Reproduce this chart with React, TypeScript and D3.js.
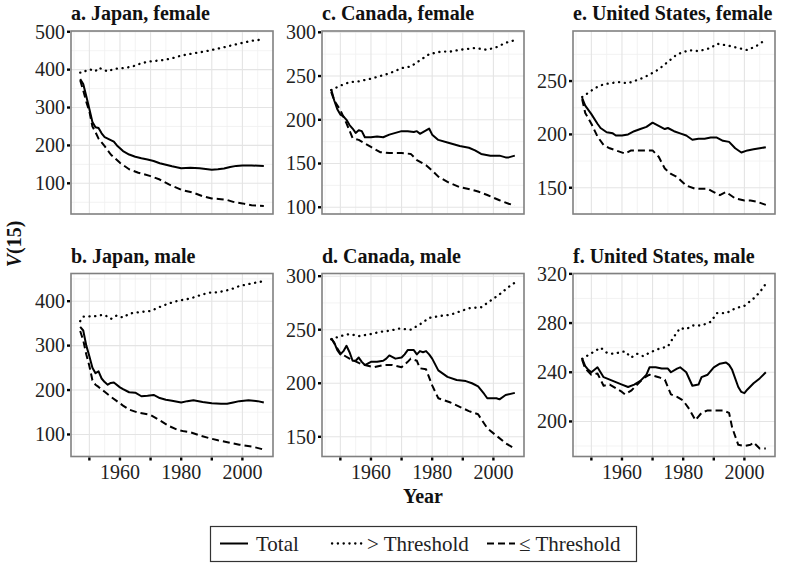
import React from "react";
import * as d3 from "d3";

type Pt = [number, number];

// ---- Data: [year, V(15)] ----
const jpFTotal: Pt[] = [[1947,375],[1948,362],[1949,330],[1950,296],[1951,262],[1952,248],[1953,246],[1954,232],[1955,222],[1956,218],[1958,210],[1959,200],[1961,185],[1963,176],[1965,170],[1967,166],[1969,163],[1971,159],[1973,153],[1975,149],[1977,145],[1980,140],[1983,141],[1986,140],[1988,138],[1990,136],[1992,137],[1994,139],[1996,143],[1998,146],[2000,147],[2003,147],[2007,146]];
const jpFAbove: Pt[] = [[1947,392],[1948,392],[1949,398],[1950,401],[1952,396],[1953,405],[1955,399],[1956,395],[1958,402],[1961,404],[1964,408],[1967,417],[1970,422],[1974,425],[1977,430],[1980,437],[1984,443],[1987,447],[1990,452],[1995,461],[1999,469],[2003,476],[2007,480]];
const jpFBelow: Pt[] = [[1947,372],[1948,345],[1949,315],[1950,290],[1951,250],[1952,235],[1953,218],[1955,198],[1957,176],[1960,154],[1963,137],[1966,128],[1970,119],[1973,110],[1976,97],[1980,83],[1984,75],[1987,66],[1990,60],[1993,58],[1995,56],[1997,51],[2000,47],[2003,42],[2007,40]];

const jpMTotal: Pt[] = [[1947,342],[1948,334],[1949,300],[1950,276],[1951,250],[1952,238],[1953,242],[1954,226],[1955,218],[1956,212],[1957,216],[1958,217],[1960,206],[1961,202],[1963,195],[1965,194],[1967,186],[1969,187],[1971,189],[1973,182],[1975,178],[1977,176],[1980,172],[1982,175],[1984,177],[1987,173],[1990,170],[1993,169],[1995,169],[1997,172],[1999,175],[2002,177],[2005,175],[2007,172]];
const jpMAbove: Pt[] = [[1947,355],[1948,365],[1950,366],[1951,365],[1953,368],[1955,369],[1957,360],[1959,368],[1961,363],[1963,372],[1966,375],[1970,378],[1973,387],[1976,395],[1979,401],[1983,406],[1986,413],[1989,419],[1992,420],[1996,426],[1999,434],[2003,440],[2007,445]];
const jpMBelow: Pt[] = [[1947,333],[1948,312],[1949,280],[1950,254],[1951,222],[1952,212],[1953,207],[1955,196],[1957,185],[1959,175],[1961,165],[1963,156],[1966,149],[1970,144],[1973,132],[1976,119],[1979,110],[1981,107],[1983,105],[1986,98],[1989,92],[1992,87],[1996,81],[1999,77],[2003,73],[2007,66]];

const caFTotal: Pt[] = [[1947,235],[1948,222],[1949,212],[1950,206],[1951,204],[1952,200],[1953,194],[1954,190],[1955,185],[1956,188],[1957,187],[1958,180],[1960,180],[1962,181],[1964,180],[1966,183],[1968,185],[1970,187],[1972,187],[1974,186],[1975,187],[1976,184],[1977,186],[1978,188],[1979,190],[1980,183],[1982,177],[1985,174],[1987,172],[1989,170],[1992,168],[1994,165],[1996,161],[1999,159],[2002,159],[2004,157],[2005,157],[2007,159]];
const caFAbove: Pt[] = [[1947,234],[1950,239],[1953,243],[1956,244],[1960,247],[1963,250],[1966,253],[1970,259],[1973,261],[1976,268],[1979,275],[1983,278],[1986,278],[1989,280],[1994,282],[1998,280],[2001,283],[2004,288],[2007,291]];
const caFBelow: Pt[] = [[1947,232],[1948,222],[1950,211],[1952,196],[1954,179],[1956,177],[1958,173],[1960,169],[1963,163],[1966,162],[1970,162],[1973,161],[1975,154],[1978,148],[1980,142],[1982,135],[1985,129],[1989,123],[1993,120],[1995,118],[1998,114],[2002,108],[2005,104],[2007,102]];

const caMTotal: Pt[] = [[1947,242],[1948,238],[1949,231],[1950,227],[1951,230],[1952,235],[1953,229],[1954,221],[1955,221],[1956,224],[1957,220],[1958,217],[1960,220],[1962,220],[1964,221],[1965,223],[1966,226],[1968,223],[1970,224],[1971,227],[1972,231],[1974,231],[1975,227],[1976,230],[1977,229],[1978,230],[1979,227],[1980,223],[1982,212],[1985,206],[1988,203],[1991,202],[1993,200],[1995,197],[1997,190],[1998,186],[2001,186],[2002,185],[2004,189],[2007,191]];
const caMAbove: Pt[] = [[1947,241],[1950,244],[1953,246],[1956,244],[1960,246],[1963,248],[1966,249],[1969,251],[1973,250],[1976,255],[1979,261],[1983,263],[1986,264],[1989,267],[1992,270],[1996,271],[1999,277],[2002,283],[2005,290],[2007,294]];
const caMBelow: Pt[] = [[1947,242],[1950,228],[1953,223],[1956,219],[1958,217],[1961,215],[1964,217],[1967,217],[1970,215],[1972,220],[1973,223],[1975,221],[1976,214],[1978,213],[1980,198],[1982,186],[1984,184],[1986,182],[1989,178],[1992,174],[1995,171],[1998,158],[2001,151],[2004,144],[2007,139]];

const usFTotal: Pt[] = [[1947,234],[1948,227],[1950,219],[1952,210],[1953,206],[1955,202],[1957,201],[1958,199],[1960,199],[1962,200],[1964,203],[1966,205],[1968,207],[1970,211],[1972,208],[1974,205],[1975,206],[1977,203],[1979,201],[1981,199],[1983,195],[1985,196],[1987,196],[1989,197],[1991,197],[1993,194],[1995,193],[1997,187],[1999,183],[2001,185],[2003,186],[2005,187],[2007,188]];
const usFAbove: Pt[] = [[1947,235],[1949,239],[1951,243],[1953,246],[1956,248],[1959,249],[1962,248],[1966,252],[1969,256],[1972,261],[1975,268],[1978,275],[1982,279],[1985,278],[1989,281],[1991,285],[1995,283],[1998,281],[2001,279],[2004,283],[2007,289]];
const usFBelow: Pt[] = [[1947,233],[1948,220],[1950,210],[1952,198],[1954,190],[1956,187],[1958,185],[1961,182],[1963,185],[1967,185],[1970,185],[1972,179],[1974,168],[1976,163],[1978,160],[1981,152],[1984,149],[1988,149],[1990,146],[1992,143],[1994,146],[1997,140],[2000,138],[2002,138],[2004,137],[2007,134]];

const usMTotal: Pt[] = [[1947,251],[1948,245],[1949,242],[1950,240],[1951,242],[1952,244],[1953,240],[1954,236],[1956,234],[1958,232],[1960,230],[1962,228],[1964,230],[1966,233],[1968,238],[1969,244],[1971,244],[1973,243],[1975,243],[1976,240],[1978,243],[1979,244],[1981,240],[1983,229],[1985,230],[1986,236],[1988,238],[1990,244],[1992,247],[1994,248],[1995,246],[1996,242],[1998,228],[1999,224],[2000,223],[2001,226],[2003,231],[2005,235],[2007,240]];
const usMAbove: Pt[] = [[1947,251],[1949,254],[1951,257],[1953,260],[1955,256],[1957,255],[1959,256],[1961,257],[1963,252],[1965,255],[1967,253],[1969,256],[1972,259],[1975,261],[1977,269],[1979,276],[1981,275],[1983,278],[1986,278],[1989,281],[1991,288],[1994,288],[1997,292],[2000,294],[2003,300],[2005,305],[2007,312]];
const usMBelow: Pt[] = [[1947,250],[1948,243],[1950,238],[1952,239],[1954,229],[1956,230],[1958,227],[1960,224],[1961,222],[1963,225],[1965,230],[1967,235],[1969,238],[1972,236],[1974,234],[1976,222],[1978,220],[1980,217],[1982,210],[1984,201],[1986,207],[1988,209],[1991,209],[1993,209],[1995,207],[1996,195],[1998,181],[2000,180],[2002,181],[2003,183],[2005,178],[2007,178]];

const yearTicks = [1950, 1960, 1970, 1980, 1990, 2000];
const yearLabels = ["", "1960", "", "1980", "", "2000"];
const legendLabels = ["Total", "> Threshold", "≤ Threshold"];

type Panel = {
  title: string;
  col: number;
  row: number;
  yDomain: [number, number];
  yTicks: number[];
  total: Pt[];
  above: Pt[];
  below: Pt[];
};

const panels: Panel[] = [
  { title: "a. Japan, female", col: 0, row: 0, yDomain: [19, 502], yTicks: [100, 200, 300, 400, 500], total: jpFTotal, above: jpFAbove, below: jpFBelow },
  { title: "b. Japan, male", col: 0, row: 1, yDomain: [50.4, 462.3], yTicks: [100, 200, 300, 400], total: jpMTotal, above: jpMAbove, below: jpMBelow },
  { title: "c. Canada, female", col: 1, row: 0, yDomain: [92.3, 301.5], yTicks: [100, 150, 200, 250, 300], total: caFTotal, above: caFAbove, below: caFBelow },
  { title: "d. Canada, male", col: 1, row: 1, yDomain: [131.6, 302.5], yTicks: [150, 200, 250, 300], total: caMTotal, above: caMAbove, below: caMBelow },
  { title: "e. United States, female", col: 2, row: 0, yDomain: [125.4, 296.9], yTicks: [150, 200, 250], total: usFTotal, above: usFAbove, below: usFBelow },
  { title: "f. United States, male", col: 2, row: 1, yDomain: [171.5, 320.3], yTicks: [200, 240, 280, 320], total: usMTotal, above: usMAbove, below: usMBelow },
];

const colX = [71, 322, 573];
const panelW = 202;
const rowY = [31, 273.5];
const panelH = 183;

const FONT = "Liberation Serif";
const styles = {
  total: { dash: "none", width: 2 },
  above: { dash: "0.2 5.6", width: 2.3 },
  below: { dash: "7 4", width: 2 },
};

function PanelView({ p }: { p: Panel }) {
  const x0 = colX[p.col];
  const y0 = rowY[p.row];
  const x = d3.scaleLinear().domain([1944, 2010]).range([x0, x0 + panelW]);
  const y = d3.scaleLinear().domain(p.yDomain).range([y0 + panelH, y0]);
  const step = p.yTicks[1] - p.yTicks[0];
  const ext = [p.yTicks[0] - step, ...p.yTicks, p.yTicks[p.yTicks.length - 1] + step];
  const minorY: number[] = [];
  for (let i = 0; i < ext.length - 1; i++) minorY.push((ext[i] + ext[i + 1]) / 2);
  const inY = (v: number) => v >= p.yDomain[0] - 0.5 && v <= p.yDomain[1] + 0.5;
  const majorX = d3.range(1950, 2011, 10).filter((v) => v <= 2010 - 0.5);
  const minorX = d3.range(1945, 2011, 10);
  const line = d3.line<Pt>().x((d) => x(d[0])).y((d) => y(d[1]));
  const clipId = `clip-${p.col}-${p.row}`;
  return (
    <g>
      <defs>
        <clipPath id={clipId}>
          <rect x={x0} y={y0} width={panelW} height={panelH} />
        </clipPath>
      </defs>
      <rect x={x0} y={y0} width={panelW} height={panelH} fill="#fff" />
      {minorY.filter(inY).map((v) => (
        <line key={"my" + v} x1={x0} x2={x0 + panelW} y1={y(v)} y2={y(v)} stroke="#f0f0f0" strokeWidth={0.8} />
      ))}
      {minorX.map((v) => (
        <line key={"mx" + v} x1={x(v)} x2={x(v)} y1={y0} y2={y0 + panelH} stroke="#f0f0f0" strokeWidth={0.8} />
      ))}
      {p.yTicks.filter(inY).map((v) => (
        <line key={"gy" + v} x1={x0} x2={x0 + panelW} y1={y(v)} y2={y(v)} stroke="#e4e4e4" strokeWidth={1.1} />
      ))}
      {majorX.map((v) => (
        <line key={"gx" + v} x1={x(v)} x2={x(v)} y1={y0} y2={y0 + panelH} stroke="#e4e4e4" strokeWidth={1.1} />
      ))}
      <g clipPath={`url(#${clipId})`} fill="none" stroke="#000" strokeLinejoin="round">
        <path d={line(p.above) || ""} strokeWidth={styles.above.width} strokeDasharray={styles.above.dash} strokeLinecap="round" />
        <path d={line(p.below) || ""} strokeWidth={styles.below.width} strokeDasharray={styles.below.dash} />
        <path d={line(p.total) || ""} strokeWidth={styles.total.width} />
      </g>
      <rect x={x0} y={y0} width={panelW} height={panelH} fill="none" stroke="#808080" strokeWidth={1.6} />
      {p.yTicks.filter(inY).map((v) => (
        <g key={"yt" + v}>
          <line x1={x0 - 4} x2={x0 - 1} y1={y(v)} y2={y(v)} stroke="#000" strokeWidth={2.4} />
          <text x={x0 - 6} y={y(v)} dy="0.34em" textAnchor="end" fontSize={20} fill="#222" fontFamily={FONT}>
            {v}
          </text>
        </g>
      ))}
      {p.row === 1 &&
        yearTicks.map((v, i) => (
          <g key={"xt" + v}>
            <line x1={x(v)} x2={x(v)} y1={y0 + panelH + 1} y2={y0 + panelH + 4} stroke="#000" strokeWidth={2.4} />
            <text x={x(v)} y={y0 + panelH + 22} textAnchor="middle" fontSize={20} fill="#222" fontFamily={FONT}>
              {yearLabels[i]}
            </text>
          </g>
        ))}
      <text x={x0} y={y0 - 11} fontSize={20} fontWeight="bold" fill="#111" fontFamily={FONT}>
        {p.title}
      </text>
    </g>
  );
}

export default function App() {
  const legendY = 543.5;
  const samples = [
    { x1: 220, x2: 248, tx: 256, s: styles.total, cap: "butt" },
    { x1: 332, x2: 363, tx: 367, s: styles.above, cap: "round" },
    { x1: 487, x2: 515, tx: 519, s: styles.below, cap: "butt" },
  ];
  return (
    <svg width={787} height={566} style={{ position: "absolute", left: 0, top: 0, background: "#fff" }}>
      <rect x={0} y={0} width={787} height={566} fill="#fff" />
      {panels.map((p) => (
        <PanelView key={p.title} p={p} />
      ))}
      <text transform="translate(21,244) rotate(-90)" textAnchor="middle" fontSize={20} fontWeight="bold" fill="#111" fontFamily={FONT}>
        <tspan fontStyle="italic">V</tspan>(15)
      </text>
      <text x={423} y={503} textAnchor="middle" fontSize={20} fontWeight="bold" fill="#111" fontFamily={FONT}>
        Year
      </text>
      <rect x={210.5} y={526.5} width={426} height={35} fill="#fff" stroke="#333" strokeWidth={1.2} />
      {samples.map((s, i) => (
        <g key={legendLabels[i]}>
          <line x1={s.x1} x2={s.x2} y1={legendY} y2={legendY} stroke="#000" strokeWidth={s.s.width} strokeDasharray={s.s.dash} strokeLinecap={s.cap as any} />
          <text x={s.tx} y={legendY} dy="0.34em" fontSize={21} fill="#222" fontFamily={FONT}>
            {legendLabels[i]}
          </text>
        </g>
      ))}
    </svg>
  );
}
